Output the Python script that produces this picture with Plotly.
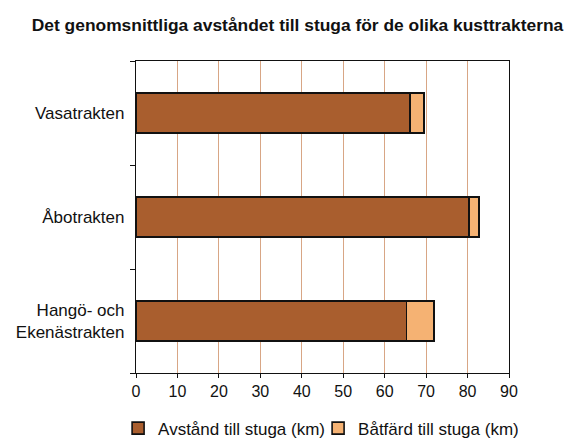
import plotly.graph_objects as go

categories = ["Vasatrakten", "Åbotrakten", "Hangö- och<br>Ekenästrakten"]
avstand = [66.1, 80.4, 65.3]
batfard = [3.4, 2.3, 6.6]
series_names = ["Avstånd till stuga (km)", "Båtfärd till stuga (km)"]
x_ticks = [0, 10, 20, 30, 40, 50, 60, 70, 80, 90]

FONT = "Liberation Sans, Arial, Helvetica, sans-serif"

# page body has an 8px margin; figure is sized to fit the window
W, H = 564, 431

fig = go.Figure()
fig.add_trace(go.Bar(
    y=categories, x=avstand, name=series_names[0], orientation="h",
    marker=dict(color="#a95e2e", line=dict(color="#111111", width=1.6)),
    width=0.39,
))
fig.add_trace(go.Bar(
    y=categories, x=batfard, name=series_names[1], orientation="h",
    marker=dict(color="#f5b273", line=dict(color="#111111", width=1.6)),
    width=0.39,
))

fig.update_layout(
    barmode="stack",
    width=W, height=H,
    margin=dict(l=128, r=63, t=53, b=66, autoexpand=False),
    paper_bgcolor="white", plot_bgcolor="white",
    font=dict(family=FONT, size=16, color="#111111"),
    title=dict(
        text="<b>Det genomsnittliga avståndet till stuga för de olika kusttrakterna</b>",
        x=289.5 / W, xref="container", xanchor="center",
        y=1 - 17 / H, yref="container", yanchor="middle",
        font=dict(family=FONT, size=17.4, color="#111111"),
    ),
    showlegend=True,
    legend=dict(
        orientation="h", x=-0.048, xref="paper", xanchor="left",
        y=-0.178, yref="paper", yanchor="middle",
        font=dict(family=FONT, size=17),
        traceorder="normal",
        itemwidth=30, tracegroupgap=0,
        entrywidth=155, entrywidthmode="pixels",
    ),
)

fig.update_xaxes(
    range=[0, 90], tickvals=x_ticks, ticktext=[str(t) for t in x_ticks],
    showgrid=True, gridcolor="#d8a685", gridwidth=1,
    showline=True, linecolor="#111111", linewidth=1.2, mirror=True,
    ticks="outside", ticklen=4, tickcolor="#111111",
    zeroline=False, automargin=False,
    tickfont=dict(size=16),
)
fig.update_yaxes(
    categoryorder="array", categoryarray=categories[::-1],
    showline=True, linecolor="#111111", linewidth=1.2, mirror=True,
    ticks="outside", ticklen=5, tickcolor="#111111", tickson="boundaries",
    showgrid=False, automargin=False, tickfont=dict(size=17),
    ticklabelstandoff=7,
)

fig.write_html("out.html")
